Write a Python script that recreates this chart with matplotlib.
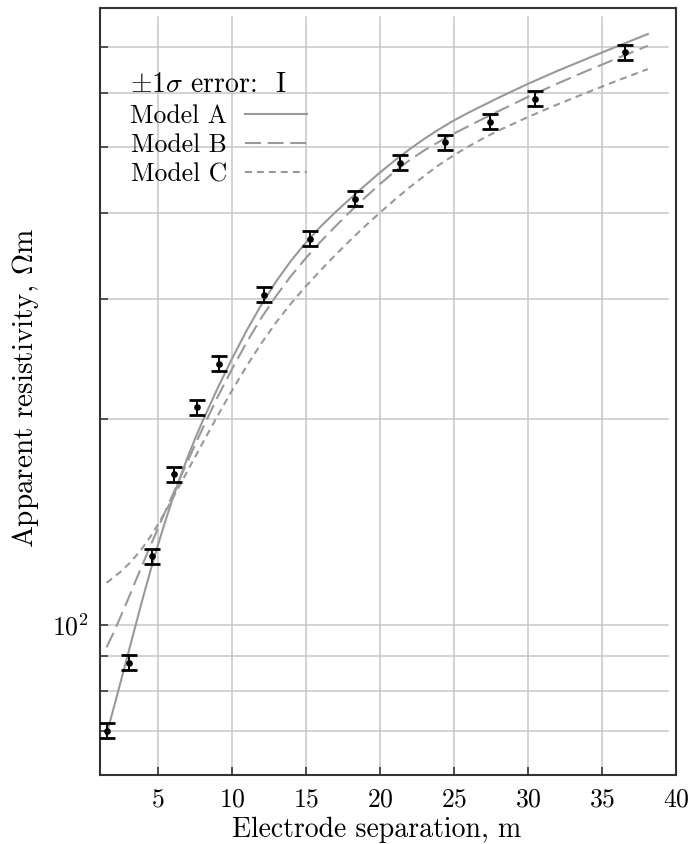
import matplotlib
matplotlib.use("Agg")
import matplotlib.pyplot as plt
from matplotlib.ticker import FixedLocator, NullFormatter, LogFormatterMathtext

plt.rcParams['font.family'] = ['cmr10', 'DejaVu Sans']
plt.rcParams['mathtext.fontset'] = 'cm'
plt.rcParams['axes.formatter.use_mathtext'] = True
plt.rcParams['lines.scale_dashes'] = False

# ---- data ----
separation = [1.524, 3.048, 4.572, 6.096, 7.62, 9.144, 12.19, 15.24, 18.29,
              21.34, 24.38, 27.43, 30.48, 36.58]
resistivity = [70, 88, 126, 166, 208, 241, 304, 367, 420, 474, 508, 544, 588, 688]
sigma = [1.8, 2.2, 3.2, 4.2, 5.2, 6.0, 7.6, 9.2, 10.5, 11.9, 12.7, 13.6, 14.7, 17.2]

model_x = [1.52, 2, 2.5, 3, 3.5, 4, 4.5, 5, 5.5, 6, 6.5, 7, 7.5, 8, 9, 10, 11,
           12, 13, 14, 15, 16, 17, 18, 19, 20, 21, 22, 23, 24, 25, 26, 27, 28,
           30, 32, 34, 36, 38.1]
model_a = [69.1, 75.5, 82.9, 91.1, 100.1, 109.9, 120.2, 130.9, 141.9, 153.1,
           164.4, 175.8, 187.0, 198.2, 221.2, 245.0, 269.6, 294.2, 318.2, 341.0,
           362.4, 382.5, 401.5, 420.2, 439.3, 458.6, 477.6, 496.0, 513.8, 530.6,
           546.6, 561.3, 575.4, 589.8, 618.2, 645.8, 673.1, 701.0, 731.1]
model_b = [92.7, 97.4, 103.1, 109.3, 116.1, 123.2, 130.7, 138.4, 146.6, 155.1,
           164.0, 173.4, 183.2, 193.4, 214.8, 236.6, 259.1, 281.5, 303.0, 324.0,
           344.0, 363.6, 382.8, 402.3, 421.7, 441.1, 460.3, 478.1, 494.3, 508.7,
           523.0, 536.3, 550.1, 563.7, 591.6, 618.9, 646.0, 673.4, 702.7]
model_c = [115.2, 117.3, 119.7, 122.6, 126.0, 130.0, 134.7, 140.2, 146.4, 153.2,
           160.4, 168.0, 175.9, 184.2, 201.7, 220.1, 239.2, 258.4, 277.2, 295.3,
           312.8, 330.2, 347.7, 365.3, 383.0, 400.6, 418.5, 436.2, 453.6, 470.6,
           486.2, 501.0, 514.8, 528.1, 552.7, 576.9, 600.5, 624.5, 649.7]

x_ticks = [5, 10, 15, 20, 25, 30, 35, 40]
y_major = [100]
y_minor = [60, 70, 80, 90, 200, 300, 400, 500, 600, 700]
labels = ['Model A', 'Model B', 'Model C']

FS = 18.5
LFS = 20
GRID = '#c6c6c6'
CURVE = '#999999'
SPINE = '#333333'

fig = plt.figure(figsize=(6.9, 8.44), dpi=100)
W, H = 690, 844
ax = fig.add_axes([100 / W, 1 - 775 / H, 576 / W, 767 / H])
ax.set_yscale('log')
ax.set_xlim(1.08, 40)
ax.set_ylim(60.3, 798)

# grid lines (inset from spines)
for yv in y_major + y_minor:
    ax.axhline(yv, xmin=8 / 576, xmax=1 - 8 / 576, color=GRID, lw=1.1, zorder=0)
for xv in x_ticks[:-1]:
    ax.axvline(xv, ymin=0, ymax=1 - 9 / 767, color=GRID, lw=1.1, zorder=0)

styles = [dict(linestyle='-'),
          dict(linestyle=(0, (11.5, 4.8))),
          dict(linestyle=(0, (5.0, 3.6)))]
handles = []
for ys, st, lab in zip([model_a, model_b, model_c], styles, labels):
    ln, = ax.plot(model_x, ys, color=CURVE, lw=1.5, label=lab, zorder=2, **st)
    handles.append(ln)

ax.errorbar(separation, resistivity, yerr=sigma, fmt='o', color='black',
            markersize=3.8, elinewidth=1.4, capsize=6, capthick=2.0, zorder=3)

ax.xaxis.set_major_locator(FixedLocator(x_ticks))
ax.yaxis.set_major_locator(FixedLocator(y_major))
ax.yaxis.set_major_formatter(LogFormatterMathtext())
ax.yaxis.set_minor_locator(FixedLocator(y_minor))
ax.yaxis.set_minor_formatter(NullFormatter())
ax.xaxis.set_minor_locator(FixedLocator([]))

ax.tick_params(which='both', direction='in', length=6, width=1.2, color=SPINE,
               top=False, right=False, labelsize=FS, labelcolor='black')
ax.tick_params(axis='x', pad=9)
ax.tick_params(axis='y', pad=8)
for sp in ax.spines.values():
    sp.set_color(SPINE)
    sp.set_linewidth(1.5)

ax.set_xlabel('Electrode separation, m', fontsize=LFS, labelpad=4, x=0.48)
ax.set_ylabel(r'Apparent resistivity, $\Omega$m', fontsize=21, labelpad=8,
              y=0.505)

leg = ax.legend(handles=handles, labels=labels, loc='upper left',
                bbox_to_anchor=(30 / 576, 1 - 64 / 767), frameon=False,
                markerfirst=False, fontsize=FS, borderpad=0, borderaxespad=0,
                handlelength=2.4, handletextpad=0.7, labelspacing=0.22,
                title=r'$\pm1\sigma$ error:  I', title_fontsize=LFS,
                alignment='left')

fig.savefig('out.png', dpi=100)
